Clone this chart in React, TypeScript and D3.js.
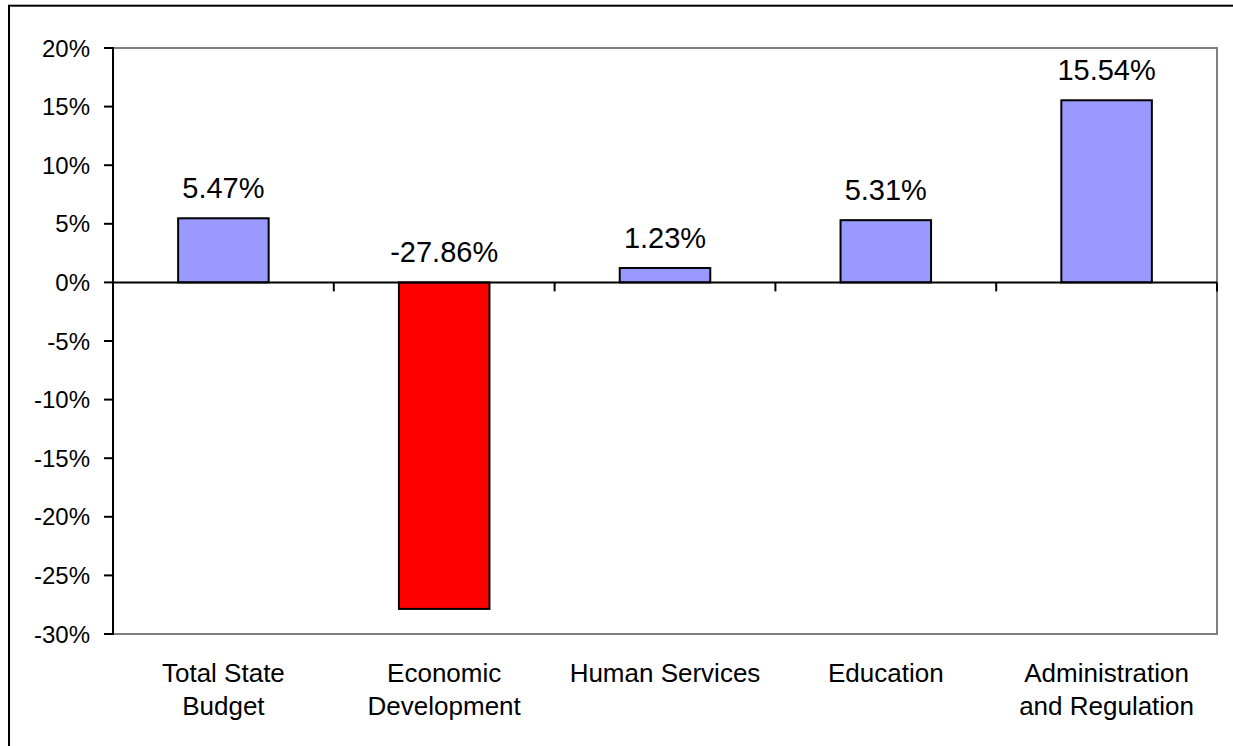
import React from 'react'
import * as d3 from 'd3'

const categories = ['Total State Budget', 'Economic Development', 'Human Services', 'Education', 'Administration and Regulation']
const categoryLines = [['Total State', 'Budget'], ['Economic', 'Development'], ['Human Services'], ['Education'], ['Administration', 'and Regulation']]
const values = [5.47, -27.86, 1.23, 5.31, 15.54]
const yTicks = [20, 15, 10, 5, 0, -5, -10, -15, -20, -25, -30]

const W = 1233
const H = 746
const plot = { left: 113, right: 1217, top: 48, bottom: 634 }
const font = '"Liberation Sans", Arial, sans-serif'

const App = () => {
    const x = d3.scaleBand<string>()
        .domain(categories)
        .range([plot.left, plot.right])
        .paddingInner(0.59)
        .paddingOuter(0.295)

    const y = d3.scaleLinear()
        .domain([-30, 20])
        .range([plot.bottom, plot.top])

    const step = x.step()
    const zero = y(0)
    const boundaries = d3.range(categories.length + 1).map(i => plot.left + i * step)

    return (
        <svg width={W} height={H} style={{ position: 'absolute', left: 0, top: 0, background: '#fff' }}>
            {/* outer chart frame, clipped at right and bottom */}
            <rect x={9} y={5.7} width={W + 10} height={H + 10} fill="#fff" stroke="#000" strokeWidth={2} />

            {/* plot area border */}
            <rect x={plot.left} y={plot.top} width={plot.right - plot.left} height={plot.bottom - plot.top}
                fill="none" stroke="#808080" strokeWidth={2} />

            {/* bars */}
            {values.map((v, i) => (
                <rect key={categories[i]}
                    x={x(categories[i])!}
                    y={Math.min(y(v), zero)}
                    width={x.bandwidth()}
                    height={Math.abs(y(v) - zero)}
                    fill={v < 0 ? '#FF0000' : '#9999FF'}
                    stroke="#000" strokeWidth={2} />
            ))}

            {/* y axis */}
            <line x1={plot.left} x2={plot.left} y1={plot.top - 1} y2={plot.bottom + 1} stroke="#000" strokeWidth={2} />
            {yTicks.map(t => (
                <g key={t}>
                    <line x1={plot.left - 9} x2={plot.left} y1={y(t)} y2={y(t)} stroke="#000" strokeWidth={2} />
                    <text x={plot.left - 23} y={y(t)} dy="0.36em" textAnchor="end"
                        fontFamily={font} fontSize={24} fill="#000">{`${t}%`}</text>
                </g>
            ))}

            {/* zero line with category ticks */}
            <line x1={plot.left} x2={plot.right} y1={zero} y2={zero} stroke="#000" strokeWidth={2} />
            {boundaries.map((b, i) => (
                <line key={i} x1={b} x2={b} y1={zero} y2={zero + 9} stroke="#000" strokeWidth={2} />
            ))}

            {/* value labels */}
            {values.map((v, i) => (
                <text key={categories[i]}
                    x={x(categories[i])! + x.bandwidth() / 2}
                    y={y(Math.max(v, 0)) - 20}
                    textAnchor="middle" fontFamily={font} fontSize={29} fill="#000">
                    {`${v.toFixed(2)}%`}
                </text>
            ))}

            {/* category labels */}
            {categoryLines.map((lines, i) => (
                <text key={categories[i]} textAnchor="middle" fontFamily={font} fontSize={26} fill="#000">
                    {lines.map((l, j) => (
                        <tspan key={j} x={x(categories[i])! + x.bandwidth() / 2} y={682 + j * 33}>{l}</tspan>
                    ))}
                </text>
            ))}
        </svg>
    )
}

export default App
